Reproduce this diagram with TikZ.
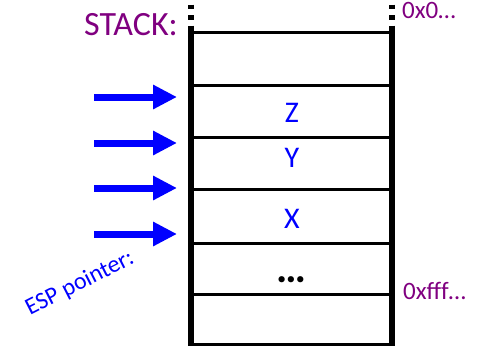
\documentclass[tikz,border=0pt]{standalone}
\usepackage{fontspec}
\setmainfont{Carlito}
\usetikzlibrary{arrows.meta}
\definecolor{stackpurple}{RGB}{128,0,128}
\definecolor{espblue}{RGB}{0,0,255}
\begin{document}
\begin{tikzpicture}[x=1pt,y=-1pt,
  wall/.style={line width=6.5pt},
  cellline/.style={line width=3pt},
  dotwall/.style={line width=5.5pt,dash pattern=on 4.5pt off 6pt},
  espArrow/.style={espblue,line width=7pt,-{Triangle[length=24pt,width=23pt]}},
  cellText/.style={espblue,font=\fontsize{30}{36}\selectfont,anchor=base},
  addrText/.style={stackpurple,font=\fontsize{25}{30}\selectfont,anchor=base west}]
\useasboundingbox (0,0) rectangle (481,346);
% walls
\coordinate (lt) at (191,29);
\coordinate (lb) at (191,346);
\coordinate (rt) at (392,29);
\coordinate (rb) at (392,346);
\coordinate (ld) at (191,4.5);
\coordinate (rd) at (392,4.5);
\draw[dotwall] (ld) -- (lt);
\draw[dotwall] (rd) -- (rt);
\draw[wall] (lt) -- (lb);
\draw[wall] (rt) -- (rb);
% cell lines
\foreach \y/\n in {32/a,85/b,137/c,189/d,243/e,294/f,344/g}{
  \coordinate (L\n) at (191,\y);
  \coordinate (R\n) at (392,\y);
  \draw[cellline] (L\n) -- (R\n);
}
% cell texts
\node[cellText] (z) at (292,122) {Z};
\node[cellText] (yy) at (292,167) {Y};
\node[cellText] (xx) at (292,228) {X};
\node[anchor=base,font=\fontsize{42}{48}\selectfont\bfseries,inner sep=0pt] (dots) at (291,282.5) {…};
% labels
\node[stackpurple,font=\fontsize{34}{40}\selectfont,anchor=base east,inner sep=0pt] (stack) at (178,35) {STACK:};
\node[addrText,inner sep=0pt] (top) at (402,18.5) {0x0…};
\node[addrText,inner sep=0pt] (bot) at (403,299) {0xfff…};
\node[espblue,font=\fontsize{24}{28}\selectfont,anchor=base west,rotate=27,inner sep=0pt] (esp) at (30,316) {ESP pointer:};
% arrows
\foreach \y/\n in {97/1,143/2,188/3,234/4}{
  \coordinate (as\n) at (94,\y);
  \coordinate (ae\n) at (177,\y);
  \draw[espArrow] (as\n) -- (ae\n);
}
\end{tikzpicture}
\end{document}
